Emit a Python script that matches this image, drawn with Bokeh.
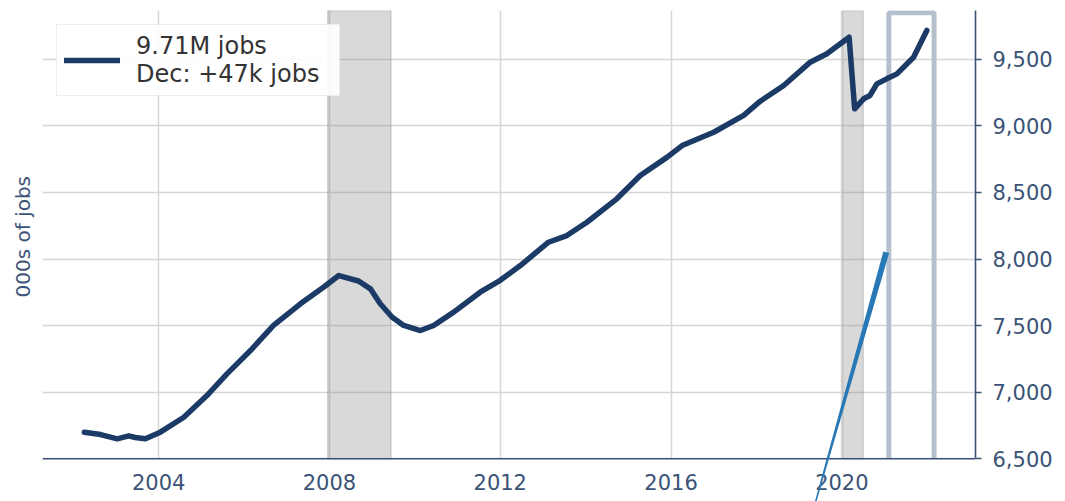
from bokeh.plotting import figure
from bokeh.models import (Range1d, FixedTicker, NumeralTickFormatter, Title,
                          BoxAnnotation, PolyAnnotation, Legend, LegendItem, Span)
from bokeh.core.properties import value
from bokeh.embed import file_html
from bokeh.resources import INLINE

# ---- data ----
years = [2002.26, 2002.64, 2003.03, 2003.30, 2003.45, 2003.69, 2004.04, 2004.59,
         2005.13, 2005.60, 2006.15, 2006.69, 2007.32, 2007.86, 2008.22, 2008.68,
         2008.96, 2009.19, 2009.47, 2009.74, 2010.13, 2010.44, 2010.91, 2011.53,
         2012.00, 2012.47, 2013.13, 2013.56, 2014.03, 2014.73, 2015.28, 2015.91,
         2016.26, 2017.00, 2017.70, 2018.09, 2018.64, 2019.26, 2019.65, 2020.17,
         2020.30, 2020.51, 2020.66, 2020.82, 2021.05, 2021.29, 2021.68, 2021.99]
jobs = [6700, 6682, 6650, 6672, 6660, 6650, 6700, 6812,
        6975, 7138, 7313, 7501, 7664, 7788, 7876, 7835,
        7776, 7664, 7563, 7501, 7463, 7501, 7601, 7751,
        7840, 7951, 8126, 8176, 8276, 8452, 8627, 8765,
        8852, 8952, 9078, 9185, 9303, 9478, 9541, 9665,
        9128, 9203, 9228, 9315, 9353, 9390, 9515, 9716]

recession_start = [2007.96, 2020.02]
recession_end = [2009.44, 2020.50]

highlight_x = [2021.10, 2022.16]
highlight_y = [6100, 9850]       # bottom edge runs off below the axis

pointer_x = [2021.04, 2019.38]   # top end, bottom end
pointer_y = [8051, 6170]
pointer_w = [6.0, 1.5]           # stroke widths (px) at each end

x_ticks = [2004, 2008, 2012, 2016, 2020]
x_labels = ["2004", "2008", "2012", "2016", "2020"]
y_ticks = [6500, 7000, 7500, 8000, 8500, 9000, 9500]

legend_text = "9.71M jobs\nDec: +47k jobs"
y_label = "000s of jobs"

# ---- styling ----
NAVY = "#1b3a66"
AXIS = "#3b5376"
FONT = "DejaVu Sans"

Y_BASE = 6500                      # where the horizontal axis sits
X0, X1 = 2001.28, 2023.13
Y0, Y1 = 6179.4, 9866              # frame reaches the bottom of the canvas
W, H = 1065, 501
ML, MR, MT, MB = 42, 90, 10, 0

p = figure(width=W, height=H, output_backend="svg", toolbar_location=None,
           x_range=Range1d(X0, X1), y_range=Range1d(Y0, Y1),
           y_axis_location="right", x_axis_location=None,
           min_border_left=ML, min_border_right=MR, min_border_top=MT, min_border_bottom=MB,
           outline_line_color=None, background_fill_color="white", border_fill_color="white")

# right value axis
yax = p.yaxis[0]
yax.ticker = FixedTicker(ticks=y_ticks)
yax.formatter = NumeralTickFormatter(format="0,0")
yax.bounds = (Y_BASE, Y1)
yax.axis_line_color = AXIS
yax.axis_line_width = 1.6
yax.major_label_text_color = AXIS
yax.major_label_text_font = FONT
yax.major_label_text_font_size = "21px"
yax.minor_tick_line_color = None
yax.major_tick_line_color = AXIS
yax.major_tick_line_width = 1.5
yax.major_tick_out = 6
yax.major_tick_in = 0
yax.major_label_standoff = 11

# left-side label (vertical), placed over the axis area
p.add_layout(Title(text=y_label, align="left", offset=204, standoff=16,
                   text_font=FONT, text_font_size="20px", text_font_style="normal",
                   text_color=AXIS), "left")

# grid
p.xgrid.ticker = FixedTicker(ticks=x_ticks)
p.xgrid.grid_line_color = "#d6d6d6"
p.ygrid.grid_line_color = "#d6d6d6"
p.xgrid.grid_line_width = 1.5
p.ygrid.grid_line_width = 1.5

# highlight box
p.add_layout(BoxAnnotation(left=highlight_x[0], right=highlight_x[1],
                           bottom=highlight_y[0], top=highlight_y[1],
                           fill_color=None, line_color="#b5c0cf", line_alpha=1.0,
                           line_width=5, level="underlay"))

# blank area below the horizontal axis
p.add_layout(BoxAnnotation(top=Y_BASE, fill_color="white", fill_alpha=1.0,
                           line_color=None, level="underlay"))

# recession bands
for s, e in zip(recession_start, recession_end):
    p.add_layout(BoxAnnotation(left=s, right=e, bottom=Y_BASE, fill_color="gray",
                               fill_alpha=0.3, line_color="gray", line_alpha=0.3,
                               line_width=1.5, level="underlay"))

# horizontal axis line and year labels
p.add_layout(Span(location=Y_BASE, dimension="width", line_color=AXIS, line_width=1.6))
p.text(x=x_ticks, y=[Y_BASE] * len(x_ticks), text=x_labels,
       text_align="center", text_baseline="middle", y_offset=23,
       text_font=value(FONT), text_font_size="21px", text_color=AXIS)

# main line
r = p.line(years, jobs, line_color=NAVY, line_width=5.5, line_join="round", line_cap="round")

# tapered pointer line
xpp = (X1 - X0) / (W - ML - MR)
ypp = (Y1 - Y0) / (H - MT - MB)
dxp = (pointer_x[1] - pointer_x[0]) / xpp
dyp = (pointer_y[1] - pointer_y[0]) / ypp
ln = (dxp ** 2 + dyp ** 2) ** 0.5
ux, uy = -dyp / ln, dxp / ln
xs, ys = [], []
for i, sgn in ((0, 1), (1, 1), (1, -1), (0, -1)):
    xs.append(pointer_x[i] + sgn * ux * pointer_w[i] / 2 * xpp)
    ys.append(pointer_y[i] + sgn * uy * pointer_w[i] / 2 * ypp)
p.add_layout(PolyAnnotation(xs=xs, ys=ys, fill_color="#2878b5", fill_alpha=1.0,
                            line_color=None))

# legend
legend = Legend(items=[LegendItem(label=legend_text, renderers=[r])],
                location="top_left", margin=14, padding=7, spacing=0,
                glyph_width=56, glyph_height=30, label_standoff=16, label_width=196,
                label_text_font=FONT, label_text_font_size="24px",
                label_text_color="#333333", label_text_line_height=1.3,
                border_line_color="#dcdcdc", border_line_width=1.5,
                background_fill_color="white", background_fill_alpha=0.9)
p.add_layout(legend)

open("out.html", "w").write(file_html(p, INLINE))
